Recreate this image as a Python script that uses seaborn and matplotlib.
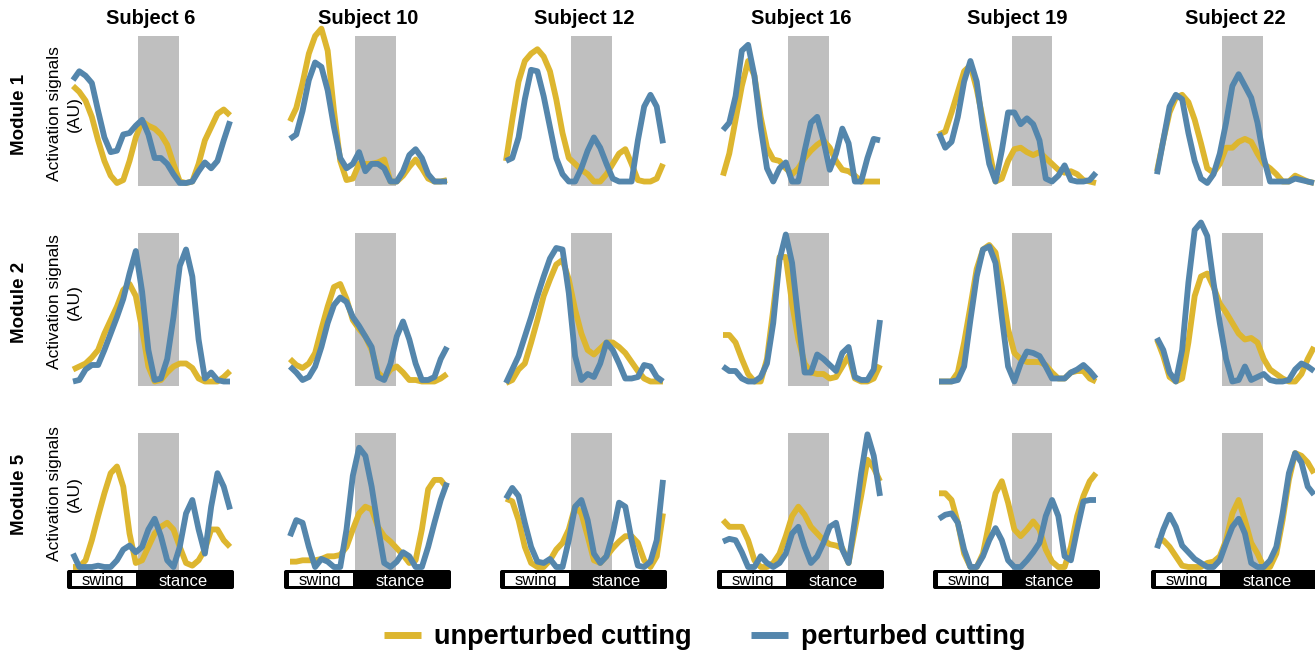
import numpy as np
import matplotlib
matplotlib.use("Agg")
import matplotlib.pyplot as plt
import seaborn as sns
from matplotlib.patches import FancyBboxPatch, Rectangle
from matplotlib.lines import Line2D

sns.set_theme(style="white")
plt.rcParams['font.family'] = ['Liberation Sans', 'DejaVu Sans']
plt.rcParams['text.color'] = 'black'

# ---- data (activation, AU; gait cycle in %) ----
gait_cycle = np.linspace(0, 100, 26)
subjects = [6, 10, 12, 16, 19, 22]
modules = ["Module 1", "Module 2", "Module 5"]
window_start = [41.4, 41.4, 41.4, 41.4, 46.2, 41.4]
window_end = [67.3, 67.3, 67.3, 67.3, 71.7, 67.3]

module1_unperturbed = [
    [0.66, 0.62, 0.56, 0.45, 0.29, 0.15, 0.05, 0.00, 0.02, 0.15, 0.31, 0.42, 0.39, 0.37, 0.33, 0.26, 0.13, 0.01, 0.00, 0.01, 0.13, 0.29, 0.38, 0.47, 0.50, 0.46],
    [0.42, 0.51, 0.68, 0.88, 1.00, 1.05, 0.90, 0.49, 0.15, 0.02, 0.03, 0.13, 0.13, 0.13, 0.14, 0.16, 0.01, 0.01, 0.05, 0.11, 0.16, 0.10, 0.03, 0.01, 0.01, 0.02],
    [0.15, 0.43, 0.69, 0.83, 0.88, 0.91, 0.86, 0.76, 0.57, 0.34, 0.17, 0.13, 0.09, 0.06, 0.01, 0.01, 0.06, 0.13, 0.20, 0.23, 0.13, 0.02, 0.01, 0.01, 0.03, 0.13],
    [0.05, 0.20, 0.43, 0.66, 0.83, 0.73, 0.45, 0.24, 0.16, 0.15, 0.10, 0.06, 0.10, 0.17, 0.22, 0.26, 0.29, 0.24, 0.15, 0.09, 0.08, 0.05, 0.01, 0.01, 0.01, 0.01],
    [0.33, 0.35, 0.48, 0.62, 0.76, 0.80, 0.64, 0.43, 0.22, 0.01, 0.03, 0.15, 0.23, 0.24, 0.21, 0.19, 0.21, 0.17, 0.13, 0.09, 0.07, 0.08, 0.06, 0.02, 0.01, 0.00],
    [0.08, 0.29, 0.48, 0.58, 0.60, 0.55, 0.43, 0.27, 0.10, 0.07, 0.13, 0.24, 0.24, 0.28, 0.30, 0.28, 0.20, 0.13, 0.10, 0.06, 0.01, 0.01, 0.05, 0.03, 0.01, 0.00],
]
module1_perturbed = [
    [0.70, 0.76, 0.73, 0.68, 0.49, 0.31, 0.21, 0.22, 0.33, 0.34, 0.39, 0.43, 0.33, 0.17, 0.17, 0.13, 0.06, 0.00, 0.00, 0.01, 0.08, 0.14, 0.10, 0.15, 0.29, 0.42],
    [0.30, 0.33, 0.49, 0.70, 0.82, 0.79, 0.63, 0.38, 0.17, 0.10, 0.13, 0.21, 0.08, 0.13, 0.13, 0.10, 0.01, 0.01, 0.08, 0.19, 0.23, 0.17, 0.06, 0.01, 0.01, 0.01],
    [0.15, 0.17, 0.31, 0.57, 0.77, 0.76, 0.59, 0.38, 0.17, 0.06, 0.01, 0.01, 0.10, 0.22, 0.31, 0.24, 0.13, 0.03, 0.01, 0.01, 0.01, 0.29, 0.52, 0.60, 0.52, 0.27],
    [0.36, 0.41, 0.59, 0.90, 0.94, 0.73, 0.38, 0.10, 0.01, 0.10, 0.14, 0.01, 0.01, 0.22, 0.41, 0.45, 0.29, 0.09, 0.20, 0.37, 0.27, 0.01, 0.01, 0.17, 0.30, 0.29],
    [0.34, 0.24, 0.28, 0.45, 0.69, 0.83, 0.69, 0.38, 0.13, 0.01, 0.22, 0.48, 0.48, 0.40, 0.44, 0.40, 0.29, 0.03, 0.01, 0.05, 0.12, 0.02, 0.01, 0.01, 0.02, 0.07],
    [0.06, 0.29, 0.52, 0.60, 0.57, 0.34, 0.15, 0.03, 0.00, 0.06, 0.20, 0.41, 0.66, 0.74, 0.66, 0.58, 0.41, 0.17, 0.01, 0.01, 0.01, 0.01, 0.03, 0.02, 0.01, 0.00],
]
module2_unperturbed = [
    [0.09, 0.11, 0.13, 0.17, 0.22, 0.33, 0.42, 0.51, 0.62, 0.66, 0.58, 0.36, 0.11, 0.01, 0.02, 0.07, 0.11, 0.13, 0.13, 0.10, 0.03, 0.01, 0.01, 0.01, 0.04, 0.08],
    [0.16, 0.12, 0.10, 0.13, 0.20, 0.36, 0.51, 0.64, 0.66, 0.56, 0.42, 0.36, 0.31, 0.22, 0.07, 0.03, 0.09, 0.11, 0.07, 0.02, 0.02, 0.01, 0.01, 0.01, 0.03, 0.06],
    [0.00, 0.02, 0.09, 0.13, 0.27, 0.42, 0.58, 0.69, 0.79, 0.82, 0.69, 0.49, 0.33, 0.22, 0.19, 0.23, 0.27, 0.27, 0.24, 0.20, 0.14, 0.08, 0.03, 0.01, 0.01, 0.01],
    [0.32, 0.32, 0.27, 0.16, 0.06, 0.01, 0.01, 0.16, 0.49, 0.84, 0.84, 0.53, 0.29, 0.13, 0.07, 0.06, 0.06, 0.03, 0.04, 0.11, 0.18, 0.03, 0.01, 0.01, 0.03, 0.12],
    [0.01, 0.01, 0.01, 0.07, 0.27, 0.51, 0.76, 0.89, 0.92, 0.87, 0.64, 0.36, 0.20, 0.16, 0.14, 0.14, 0.14, 0.12, 0.07, 0.03, 0.03, 0.07, 0.08, 0.08, 0.03, 0.01],
    [0.29, 0.18, 0.04, 0.01, 0.03, 0.27, 0.58, 0.71, 0.73, 0.64, 0.53, 0.47, 0.40, 0.33, 0.29, 0.30, 0.27, 0.16, 0.09, 0.06, 0.03, 0.01, 0.01, 0.06, 0.16, 0.24],
]
module2_perturbed = [
    [0.01, 0.02, 0.09, 0.12, 0.12, 0.22, 0.33, 0.44, 0.56, 0.73, 0.88, 0.61, 0.22, 0.02, 0.03, 0.16, 0.44, 0.78, 0.89, 0.71, 0.29, 0.03, 0.07, 0.02, 0.01, 0.01],
    [0.11, 0.07, 0.02, 0.04, 0.11, 0.24, 0.40, 0.52, 0.57, 0.54, 0.44, 0.38, 0.31, 0.24, 0.04, 0.02, 0.13, 0.31, 0.41, 0.29, 0.13, 0.02, 0.02, 0.04, 0.16, 0.24],
    [0.00, 0.09, 0.18, 0.31, 0.44, 0.58, 0.71, 0.83, 0.90, 0.89, 0.60, 0.18, 0.02, 0.06, 0.04, 0.13, 0.27, 0.22, 0.13, 0.03, 0.03, 0.04, 0.12, 0.11, 0.04, 0.01],
    [0.11, 0.08, 0.08, 0.03, 0.01, 0.01, 0.04, 0.13, 0.40, 0.82, 0.99, 0.80, 0.42, 0.07, 0.07, 0.19, 0.16, 0.12, 0.08, 0.20, 0.24, 0.04, 0.02, 0.02, 0.09, 0.42],
    [0.01, 0.01, 0.01, 0.02, 0.11, 0.42, 0.71, 0.89, 0.91, 0.80, 0.44, 0.11, 0.01, 0.13, 0.21, 0.20, 0.18, 0.11, 0.03, 0.03, 0.03, 0.07, 0.09, 0.12, 0.08, 0.03],
    [0.30, 0.22, 0.07, 0.01, 0.22, 0.67, 1.02, 1.07, 0.98, 0.67, 0.40, 0.16, 0.01, 0.02, 0.11, 0.02, 0.04, 0.06, 0.02, 0.01, 0.01, 0.02, 0.09, 0.13, 0.11, 0.08],
]
module5_unperturbed = [
    [0.00, 0.00, 0.05, 0.20, 0.38, 0.55, 0.70, 0.75, 0.60, 0.25, 0.03, 0.05, 0.15, 0.25, 0.30, 0.33, 0.28, 0.15, 0.03, 0.01, 0.05, 0.13, 0.28, 0.28, 0.20, 0.15],
    [0.04, 0.04, 0.05, 0.05, 0.05, 0.06, 0.08, 0.08, 0.09, 0.15, 0.28, 0.40, 0.45, 0.43, 0.30, 0.23, 0.19, 0.14, 0.09, 0.03, 0.05, 0.28, 0.58, 0.65, 0.65, 0.59],
    [0.51, 0.49, 0.35, 0.15, 0.03, 0.00, 0.00, 0.05, 0.13, 0.18, 0.28, 0.45, 0.40, 0.23, 0.05, 0.03, 0.08, 0.14, 0.19, 0.23, 0.23, 0.18, 0.05, 0.00, 0.08, 0.40],
    [0.35, 0.30, 0.30, 0.30, 0.20, 0.05, 0.00, 0.00, 0.03, 0.10, 0.23, 0.38, 0.45, 0.39, 0.30, 0.25, 0.20, 0.17, 0.16, 0.14, 0.03, 0.28, 0.53, 0.80, 0.74, 0.64],
    [0.55, 0.55, 0.50, 0.33, 0.10, 0.00, 0.00, 0.10, 0.33, 0.55, 0.64, 0.48, 0.28, 0.23, 0.28, 0.34, 0.28, 0.13, 0.04, 0.00, 0.00, 0.15, 0.38, 0.53, 0.64, 0.70],
    [0.19, 0.20, 0.15, 0.08, 0.01, 0.00, 0.00, 0.00, 0.03, 0.04, 0.08, 0.20, 0.40, 0.50, 0.35, 0.18, 0.10, 0.00, 0.00, 0.10, 0.35, 0.65, 0.85, 0.83, 0.78, 0.70],
]
module5_perturbed = [
    [0.10, 0.00, 0.00, 0.00, 0.01, 0.00, 0.00, 0.05, 0.13, 0.16, 0.11, 0.15, 0.28, 0.36, 0.23, 0.05, 0.00, 0.15, 0.40, 0.50, 0.28, 0.10, 0.45, 0.70, 0.60, 0.43],
    [0.23, 0.35, 0.33, 0.15, 0.00, 0.06, 0.04, 0.00, 0.00, 0.28, 0.68, 0.89, 0.83, 0.60, 0.30, 0.03, 0.00, 0.04, 0.11, 0.08, 0.00, 0.00, 0.15, 0.33, 0.50, 0.63],
    [0.51, 0.59, 0.53, 0.33, 0.15, 0.04, 0.03, 0.06, 0.00, 0.00, 0.20, 0.45, 0.50, 0.35, 0.10, 0.03, 0.08, 0.25, 0.48, 0.45, 0.20, 0.01, 0.00, 0.04, 0.20, 0.65],
    [0.19, 0.21, 0.20, 0.11, 0.00, 0.00, 0.08, 0.03, 0.00, 0.03, 0.10, 0.25, 0.30, 0.15, 0.03, 0.08, 0.18, 0.30, 0.33, 0.13, 0.03, 0.35, 0.70, 0.99, 0.83, 0.53],
    [0.36, 0.39, 0.40, 0.33, 0.13, 0.00, 0.00, 0.08, 0.20, 0.29, 0.20, 0.05, 0.00, 0.00, 0.05, 0.11, 0.18, 0.38, 0.50, 0.38, 0.08, 0.05, 0.28, 0.49, 0.50, 0.50],
    [0.14, 0.28, 0.39, 0.30, 0.16, 0.11, 0.06, 0.03, 0.00, 0.00, 0.05, 0.18, 0.30, 0.36, 0.25, 0.03, 0.00, 0.00, 0.05, 0.15, 0.40, 0.70, 0.85, 0.78, 0.60, 0.54],
]

unperturbed = [module1_unperturbed, module2_unperturbed, module5_unperturbed]
perturbed = [module1_perturbed, module2_perturbed, module5_perturbed]

YELLOW = '#DDB62F'
BLUE = '#5486AC'
GRAY = '#bfbfbf'

# ---- layout (pixels) ----
W, H = 1315, 653
fig = plt.figure(figsize=(W / 100, H / 100), dpi=100)

col_left = [73, 290, 506, 723, 939, 1157]
panel_w = 157
row_zero = [183, 383, 567]     # pixel row of activation 0
row_unit = [147, 150, 134]     # pixels per activation unit
row_center = [114, 302, 494]
xlo, xhi = -2, 102
ylo, yhi = -0.06, 1.12


def px_axes(x0, y0, w, h):
    return fig.add_axes([x0 / W, 1 - (y0 + h) / H, w / W, h / H])


for r in range(3):
    for c in range(6):
        x0 = col_left[c] + xlo / 100 * panel_w
        w = (xhi - xlo) / 100 * panel_w
        y0 = row_zero[r] - yhi * row_unit[r]
        h = (yhi - ylo) * row_unit[r]
        ax = px_axes(x0, y0, w, h)
        ax.fill_between([window_start[c], window_end[c]], -0.02, 1.0,
                        color=GRAY, lw=0, zorder=0)
        sns.lineplot(x=gait_cycle, y=unperturbed[r][c], ax=ax, color=YELLOW,
                     lw=4.2, legend=False, zorder=2,
                     solid_joinstyle='round', solid_capstyle='butt')
        sns.lineplot(x=gait_cycle, y=perturbed[r][c], ax=ax, color=BLUE,
                     lw=4.2, legend=False, zorder=3,
                     solid_joinstyle='round', solid_capstyle='butt')
        ax.set_xlim(xlo, xhi)
        ax.set_ylim(ylo, yhi)
        ax.axis('off')

# overlay in pixel coordinates for labels and the gait-phase bars
ov = fig.add_axes([0, 0, 1, 1], zorder=-1)
ov.set_xlim(0, W)
ov.set_ylim(H, 0)
ov.axis('off')

for c, s in enumerate(subjects):
    ov.text(col_left[c] + 78, 19, f"Subject {s}", ha='center', va='center',
            fontsize=14.5, fontweight='bold')

for r, m in enumerate(modules):
    ov.text(20, row_center[r], m, rotation=90, ha='center', va='center',
            fontsize=13.5, fontweight='bold')
    ov.text(64, row_center[r], "Activation signals\n(AU)", rotation=90,
            ha='center', va='center', fontsize=12.5, linespacing=1.4,
            multialignment='center')

for c in range(6):
    L = col_left[c]
    bar = FancyBboxPatch((L - 6, 570), 167, 19,
                         boxstyle='round,pad=0,rounding_size=2',
                         fc='black', ec='none')
    ov.add_patch(bar)
    box = Rectangle((L - 1, 573.3), 64.5, 12.5, fc='white', ec='none')
    ov.add_patch(box)
    t = ov.text(L + 30, 581, "swing", ha='center', va='center', fontsize=12)
    t.set_clip_path(box)
    ov.text(L + 110, 581, "stance", ha='center', va='center', fontsize=12,
            color='white')

handles = [Line2D([], [], color=YELLOW, lw=5, solid_capstyle='butt'),
           Line2D([], [], color=BLUE, lw=5, solid_capstyle='butt')]
fig.legend(handles, ["unperturbed cutting", "perturbed cutting"],
           loc='center', bbox_to_anchor=(705 / W, 1 - 637 / H), ncol=2,
           frameon=False, handlelength=1.35, handletextpad=0.5,
           columnspacing=2.2, prop={'weight': 'bold', 'size': 19.5})

fig.savefig("out.png", dpi=100)
